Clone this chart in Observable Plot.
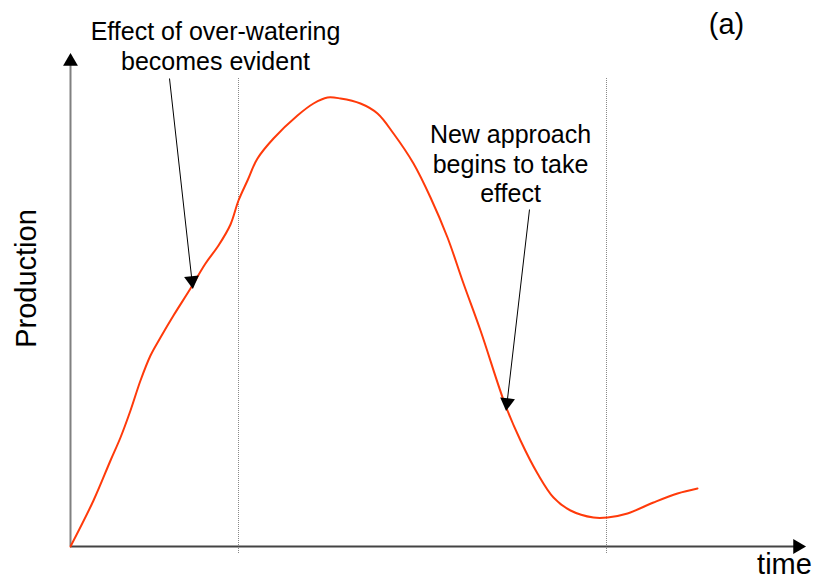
<!DOCTYPE html>
<html>
<head>
<meta charset="utf-8">
<script src="https://cdn.jsdelivr.net/npm/d3@7"></script>
<script src="https://cdn.jsdelivr.net/npm/@observablehq/plot@0.6"></script>
<style>
  html, body { margin: 0; padding: 0; background: #fff; }
  svg { display: block; }
</style>
</head>
<body>
<div id="chart"></div>
<script>
// Production over time (arbitrary units)
const time = [0, 23, 40, 50, 60, 70, 80, 90, 103, 120, 135, 148, 160, 168, 177, 187, 203, 227, 243, 257, 270, 290, 307, 323, 343, 360, 377, 393, 410, 435, 450, 467, 483, 500, 523, 537, 557, 583, 607, 627];
const production = [0, 46, 86, 109, 136, 166, 191, 209, 231, 258, 283, 301, 322, 346, 366, 388, 408, 431, 443, 449, 448, 443, 433, 413, 383, 349, 309, 263, 216, 141, 106, 73, 49, 36, 29, 29, 33, 44, 53, 58];

// Phase boundaries (vertical dotted lines)
const phaseTimes = [168, 536];

// Annotations: text position and arrow from/to
const annTexts = ["Effect of over-watering\nbecomes evident", "New approach\nbegins to take\neffect"];
const annTextX = [145, 440];
const annTextY = [501, 383];
const arrowX1 = [99, 459];
const arrowY1 = [468, 337];
const arrowX2 = [122, 436];
const arrowY2 = [261, 139];

const panelLabel = "(a)";
const xLabel = "time";
const yLabel = "Production";

const curve = time.map((t, i) => ({t, v: production[i]}));
const arrows = arrowX1.map((x1, i) => ({x1, y1: arrowY1[i], x2: arrowX2[i], y2: arrowY2[i]}));
const texts = annTexts.map((s, i) => ({s, x: annTextX[i], y: annTextY[i]}));

// arrow heads: place triangle slightly behind the tip, rotated along the direction
function head(x1, y1, x2, y2, back) {
  const dx = x2 - x1, dy = y2 - y1;
  const len = Math.hypot(dx, dy);
  return {x: x2 - dx / len * back, y: y2 - dy / len * back, rot: Math.atan2(dx, dy) * 180 / Math.PI};
}
const heads = arrows.map(a => head(a.x1, a.y1, a.x2, a.y2, 5));
const axisHeads = [head(0, 0, 0, 490, 5), head(0, 0, 732, 0, 5)];

const font = "'Liberation Sans', Arial, Helvetica, sans-serif";

const plot = Plot.plot({
  width: 818,
  height: 581,
  marginLeft: 70,
  marginRight: 16,
  marginTop: 56,
  marginBottom: 35,
  x: {domain: [0, 732], axis: null},
  y: {domain: [0, 490], axis: null},
  style: {fontFamily: font, background: "#fff"},
  marks: [
    // phase lines
    Plot.ruleX(phaseTimes, {y1: -7, y2: 468, stroke: "#888", strokeWidth: 1, strokeDasharray: "1,1"}),
    // axes
    Plot.ruleX([0], {y1: 0, y2: 484, stroke: "#808080", strokeWidth: 2}),
    Plot.ruleY([0], {x1: 0, x2: 726, stroke: "#444", strokeWidth: 2}),
    Plot.dot(axisHeads, {x: "x", y: "y", rotate: "rot", symbol: "triangle", r: 5.5, fill: "black", stroke: null}),
    // curve
    Plot.line(curve, {x: "t", y: "v", curve: "catmull-rom", stroke: "#ff3a0a", strokeWidth: 2}),
    // annotation arrows
    Plot.link(arrows, {x1: "x1", y1: "y1", x2: "x2", y2: "y2", stroke: "black", strokeWidth: 1}),
    Plot.dot(heads, {x: "x", y: "y", rotate: "rot", symbol: "triangle", r: 5.5, fill: "black", stroke: null}),
    // annotation texts
    Plot.text(texts, {x: "x", y: "y", text: "s", fontSize: 25, lineHeight: 1.18, textAnchor: "middle", lineAnchor: "middle", fill: "black"}),
    Plot.text([panelLabel], {x: 656, y: 522, fontSize: 29, textAnchor: "middle", fill: "black"}),
    Plot.text([xLabel], {x: 714, y: -18, fontSize: 29, textAnchor: "middle", fill: "black"}),
    Plot.text([yLabel], {x: -44, y: 268, fontSize: 29, rotate: -90, textAnchor: "middle", fill: "black"})
  ]
});
document.getElementById("chart").appendChild(plot);
</script>
</body>
</html>
